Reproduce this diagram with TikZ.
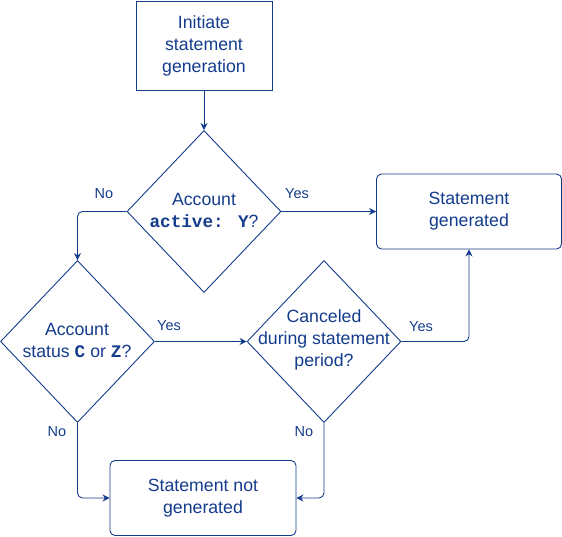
\documentclass[tikz,border=0pt]{standalone}
\usepackage{fontspec}
\setmainfont{Liberation Sans}
\newfontfamily\cour{Liberation Mono}
\usetikzlibrary{shapes.geometric,arrows.meta}
\definecolor{navy}{RGB}{20,60,140}
\begin{document}
\begin{tikzpicture}[x=1pt,y=-1pt,
  txt/.style={text=navy,font=\fontsize{17.7}{22}\selectfont,align=center,inner sep=0pt},
  box/.style={txt,draw=navy,line width=0.9pt},
  rbox/.style={box,rounded corners=5pt},
  dia/.style={draw=navy,line width=0.9pt,diamond,inner sep=0pt,minimum width=154pt,minimum height=162pt},
  lbl/.style={text=navy,font=\fontsize{14.5}{17}\selectfont,inner sep=0pt},
  conn/.style={draw=navy,line width=0.9pt,-{Stealth[length=7pt,width=7pt]},rounded corners=5pt}]
\useasboundingbox (0,0) rectangle (562,537);
\node[box,minimum width=136pt,minimum height=89pt] (init) at (204,45.5) {Initiate\\statement\\generation};
\node[dia] (d1) at (204,211.5) {};
\node[txt] (t1) at (204,210) {Account\\{\cour\bfseries active: Y}?};
\node[rbox,minimum width=185pt,minimum height=75pt] (gen) at (469,211.5) {Statement\\generated};
\node[dia] (d2) at (77.5,341.5) {};
\node[txt] (t2) at (77,340) {Account\\status {\cour\bfseries C} or {\cour\bfseries Z}?};
\node[dia] (d3) at (324,341.5) {};
\node[txt] (t3) at (324,340) {Canceled\\during statement\\period?};
\node[rbox,minimum width=186pt,minimum height=75pt] (notgen) at (203,498) {Statement not\\generated};
\draw[conn] (init) -- (d1);
\draw[conn] (d1.east) -- (gen.west);
\draw[conn] (d1.west) -| (d2.north);
\draw[conn] (d2.east) -- (d3.west);
\draw[conn] (d3.east) -| (gen.south);
\draw[conn] (d2.south) |- (notgen.west);
\draw[conn] (d3.south) |- (notgen.east);
\node[lbl] (l1) at (104,194) {No};
\node[lbl] (l2) at (297,194) {Yes};
\node[lbl] (l3) at (169,326) {Yes};
\node[lbl] (l4) at (421,327) {Yes};
\node[lbl] (l5) at (57,432) {No};
\node[lbl] (l6) at (304,432) {No};
\end{tikzpicture}
\end{document}
